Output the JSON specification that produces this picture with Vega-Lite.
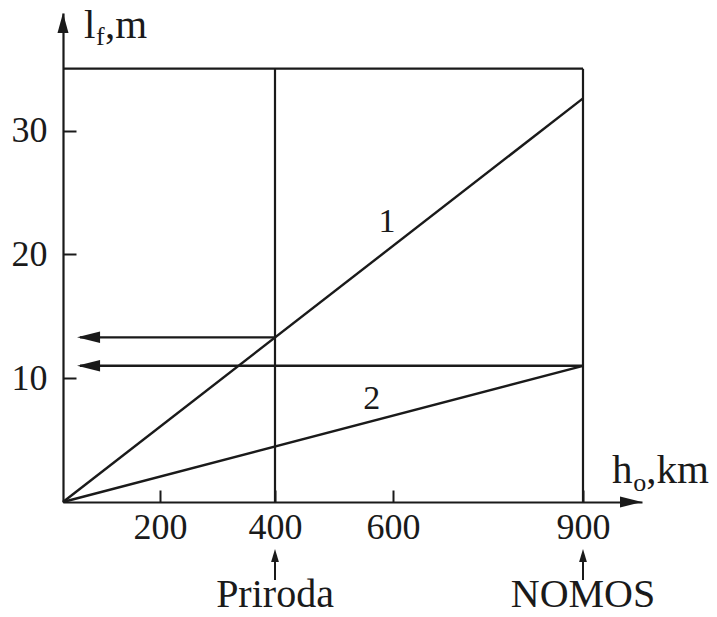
{
  "$schema": "https://vega.github.io/schema/vega-lite/v6.json",
  "width": 579,
  "height": 489,
  "autosize": {"type": "none"},
  "padding": {"left": 63, "top": 13, "right": 75, "bottom": 115},
  "background": "white",
  "config": {"view": {"stroke": null}, "font": "Liberation Serif"},
  "datasets": {
    "frame": [
      {"h": 0, "h2": 900, "l": 35, "l2": 35},
      {"h": 900, "h2": 900, "l": 0, "l2": 35},
      {"h": 400, "h2": 400, "l": 0, "l2": 35}
    ],
    "curves": [
      {"c": "1", "h": 0, "l": 0},
      {"c": "1", "h": 900, "l": 32.6},
      {"c": "2", "h": 0, "l": 0},
      {"c": "2", "h": 900, "l": 11}
    ],
    "readouts": [
      {"h": 35, "h2": 400, "l": 13.3, "l2": 13.3},
      {"h": 35, "h2": 900, "l": 11, "l2": 11}
    ],
    "leftHeads": [{"h": 29, "l": 13.3}, {"h": 29, "l": 11}],
    "upHead": [{"h": 0, "l": 39.5}],
    "rightHead": [{"h": 1000, "l": 0}],
    "satShafts": [
      {"h": 400, "h2": 400, "l": -6.3, "l2": -4.6},
      {"h": 900, "h2": 900, "l": -6.3, "l2": -4.6}
    ],
    "satHeads": [{"h": 400, "l": -3.8}, {"h": 900, "l": -3.8}],
    "curveLabels": [{"t": "1", "h": 590, "l": 22.6}, {"t": "2", "h": 564, "l": 8.3}],
    "titles": [
      {"t": "l", "h": 43.3, "l": 37.5},
      {"t": ",m", "h": 86.6, "l": 37.5},
      {"t": "h", "h": 949, "l": 1.53},
      {"t": ",km", "h": 1007, "l": 1.53}
    ],
    "subs": [{"t": "f", "h": 68, "l": 36.9}, {"t": "o", "h": 985, "l": 0.89}],
    "names": [{"t": "Priroda", "h": 400, "l": -8.5}, {"t": "NOMOS", "h": 900, "l": -8.5}]
  },
  "encoding": {
    "x": {
      "field": "h",
      "type": "quantitative",
      "scale": {"domain": [0, 200, 400, 600, 900, 1000], "range": [0, 97, 212, 330, 520, 579], "clamp": false, "nice": false, "zero": false},
      "axis": {
        "title": null,
        "grid": false,
        "values": [200, 400, 600, 900],
        "tickSize": -12,
        "tickWidth": 2,
        "tickColor": "#1a1a1a",
        "domainColor": "#1a1a1a",
        "domainWidth": 2.2,
        "labelFontSize": 36,
        "labelColor": "#1a1a1a",
        "labelPadding": 20,
        "labelFlush": false,
        "labelOverlap": false,
        "labelBound": false
      }
    },
    "y": {
      "field": "l",
      "type": "quantitative",
      "scale": {"domain": [0, 39.5], "nice": false, "zero": false},
      "axis": {
        "title": null,
        "grid": false,
        "values": [10, 20, 30],
        "tickSize": -13,
        "tickWidth": 2,
        "tickColor": "#1a1a1a",
        "domainColor": "#1a1a1a",
        "domainWidth": 2.2,
        "labelFontSize": 36,
        "labelColor": "#1a1a1a",
        "labelPadding": 29,
        "labelFlush": false,
        "labelOverlap": false,
        "labelBound": false
      }
    }
  },
  "layer": [
    {
      "data": {"name": "frame"},
      "mark": {"type": "rule", "color": "#1a1a1a", "strokeWidth": 2.2},
      "encoding": {"x2": {"field": "h2"}, "y2": {"field": "l2"}}
    },
    {
      "data": {"name": "curves"},
      "mark": {"type": "line", "color": "#1a1a1a", "strokeWidth": 2.4},
      "encoding": {"detail": {"field": "c"}}
    },
    {
      "data": {"name": "readouts"},
      "mark": {"type": "rule", "color": "#1a1a1a", "strokeWidth": 2.4},
      "encoding": {"x2": {"field": "h2"}, "y2": {"field": "l2"}}
    },
    {
      "data": {"name": "leftHeads"},
      "mark": {"type": "point", "shape": "M0,0L2,-0.5L2,0.5Z", "size": 529, "filled": true, "color": "#1a1a1a", "opacity": 1}
    },
    {
      "data": {"name": "upHead"},
      "mark": {"type": "point", "shape": "M0,0L0.55,2L-0.55,2Z", "size": 400, "filled": true, "color": "#1a1a1a", "opacity": 1}
    },
    {
      "data": {"name": "rightHead"},
      "mark": {"type": "point", "shape": "M0,0L-2,-0.5L-2,0.5Z", "size": 484, "filled": true, "color": "#1a1a1a", "opacity": 1}
    },
    {
      "data": {"name": "satShafts"},
      "mark": {"type": "rule", "color": "#1a1a1a", "strokeWidth": 2},
      "encoding": {"x2": {"field": "h2"}, "y2": {"field": "l2"}}
    },
    {
      "data": {"name": "satHeads"},
      "mark": {"type": "point", "shape": "M0,0L0.6,2L-0.6,2Z", "size": 169, "filled": true, "color": "#1a1a1a", "opacity": 1}
    },
    {
      "data": {"name": "curveLabels"},
      "mark": {"type": "text", "fontSize": 34, "align": "center", "baseline": "middle", "color": "#1a1a1a"},
      "encoding": {"text": {"field": "t"}}
    },
    {
      "data": {"name": "titles"},
      "mark": {"type": "text", "fontSize": 41, "align": "left", "baseline": "alphabetic", "color": "#1a1a1a"},
      "encoding": {"text": {"field": "t"}}
    },
    {
      "data": {"name": "subs"},
      "mark": {"type": "text", "fontSize": 26, "align": "left", "baseline": "alphabetic", "color": "#1a1a1a"},
      "encoding": {"text": {"field": "t"}}
    },
    {
      "data": {"name": "names"},
      "mark": {"type": "text", "fontSize": 40, "align": "center", "baseline": "alphabetic", "color": "#1a1a1a"},
      "encoding": {"text": {"field": "t"}}
    }
  ]
}
